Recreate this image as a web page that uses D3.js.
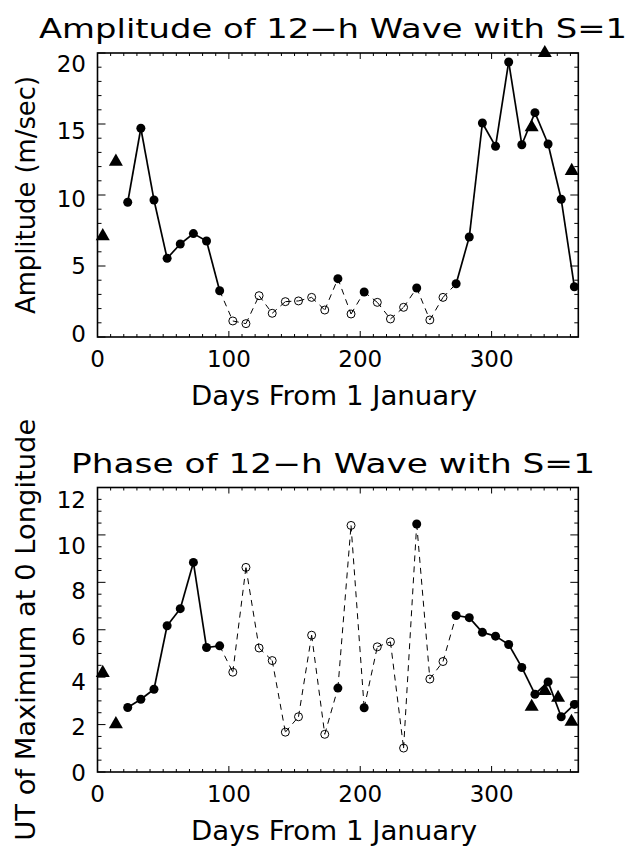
<!DOCTYPE html>
<html><head><meta charset="utf-8">
<script src="https://cdn.jsdelivr.net/npm/d3@7"></script>
<style>
body{margin:0;background:#fff}
svg{display:block}
text{font-family:"DejaVu Sans",sans-serif;fill:#000}
</style>
</head><body>
<svg id="c" width="631" height="848"></svg>
<script>
// ---------- data ----------
const days = [23,33,43,53,63,73,83,93,103,113,123,133,143,153,163,173,183,193,203,213,223,233,243,253,263,273,283,293,303,313,323,333,343,353,363];
const significant = [1,1,1,1,1,1,1,1,0,0,0,0,0,0,0,0,1,0,1,0,0,0,1,0,0,1,1,1,1,1,1,1,1,1,1];
const amplitude = [9.49,14.7,9.65,5.54,6.55,7.28,6.76,3.26,1.13,0.94,2.91,1.67,2.49,2.54,2.79,1.90,4.11,1.62,3.17,2.44,1.27,2.09,3.45,1.20,2.79,3.75,7.04,15.07,13.43,19.37,13.54,15.8,13.59,9.7,3.54];
const phase = [2.72,3.07,3.49,6.17,6.89,8.84,5.25,5.32,4.21,8.63,5.23,4.70,1.68,2.33,5.77,1.59,3.54,10.4,2.71,5.28,5.49,1.01,10.46,3.92,4.66,6.6,6.51,5.89,5.73,5.38,4.41,3.28,3.80,2.33,2.85];
const ampTriDays = [4,14,330.5,340.5,361];
const ampTriVals = [7.1,12.35,14.77,20.0,11.7];
const phaseTriDays = [4,14,330.5,340.5,350.6,360.8];
const phaseTriVals = [4.18,2.02,2.75,3.42,3.13,2.12];
const xTickLabels = [0,100,200,300];
const ampTickLabels = [0,5,10,15,20];
const phaseTickLabels = [0,2,4,6,8,10,12];
const titles = ["Amplitude of 12\u2212h Wave with S=1","Phase of 12\u2212h Wave with S=1"];
const xTitle = "Days From 1 January";
const yTitles = ["Amplitude (m/sec)","UT of Maximum at 0 Longitude"];

// ---------- layout ----------
const svg = d3.select("#c");
const X0 = 97.5, X1 = 578.3;
const x = d3.scaleLinear().domain([0,366]).range([X0,X1]);

const panels = [
  {top:53, bottom:337, ymax:20, major:5, minor:1, vals:amplitude, triD:ampTriDays, triV:ampTriVals,
   labels:ampTickLabels, labTop:63.3, labBot:333.5, title:titles[0], titleLen:588, ytitle:yTitles[0], ytLen:238},
  {top:487.5, bottom:772, ymax:12, major:2, minor:0.5, vals:phase, triD:phaseTriDays, triV:phaseTriVals,
   labels:phaseTickLabels, labTop:500, labBot:772.5, title:titles[1], titleLen:524, ytLen:422, ytitle:yTitles[1]}
];

const tickFs = 23, capH = 0.729;

panels.forEach(p => {
  const y = d3.scaleLinear().domain([0,p.ymax]).range([p.bottom,p.top]);
  const yLab = d3.scaleLinear().domain([0,p.ymax]).range([p.labBot,p.labTop]);
  const g = svg.append("g");

  // ticks (inward on all four sides)
  const minorX = d3.range(0, 366, 10);
  minorX.forEach(d => {
    const isMaj = d % 100 === 0;
    const L = isMaj ? 6 : 3;
    g.append("line").attr("x1",x(d)).attr("x2",x(d)).attr("y1",p.bottom).attr("y2",p.bottom-L).attr("stroke","#000").attr("stroke-width",1);
    g.append("line").attr("x1",x(d)).attr("x2",x(d)).attr("y1",p.top).attr("y2",p.top+L).attr("stroke","#000").attr("stroke-width",1);
  });
  const nMinor = Math.round(p.ymax / p.minor);
  for (let k=0;k<=nMinor;k++){
    const v = k*p.minor;
    const isMaj = Math.abs(v/p.major - Math.round(v/p.major))<1e-6;
    const L = isMaj ? 8 : 4;
    g.append("line").attr("x1",X0).attr("x2",X0+L).attr("y1",y(v)).attr("y2",y(v)).attr("stroke","#000").attr("stroke-width",1);
    g.append("line").attr("x1",X1).attr("x2",X1-L).attr("y1",y(v)).attr("y2",y(v)).attr("stroke","#000").attr("stroke-width",1);
  }
  // frame
  g.append("rect").attr("x",X0).attr("y",p.top).attr("width",X1-X0).attr("height",p.bottom-p.top)
    .attr("fill","none").attr("stroke","#000").attr("stroke-width",1.6);

  // tick labels
  xTickLabels.forEach(d => {
    g.append("text").attr("x",x(d)).attr("y",p.bottom+30).attr("text-anchor","middle")
      .attr("font-size",tickFs).text(d);
  });
  p.labels.forEach(v => {
    g.append("text").attr("x",86).attr("y",yLab(v)+tickFs*capH/2).attr("text-anchor","end")
      .attr("font-size",tickFs).text(v);
  });

  // titles
  g.append("text").attr("x",333).attr("y",p.top-15).attr("text-anchor","middle")
    .attr("font-size",26).attr("textLength",p.titleLen).attr("lengthAdjust","spacingAndGlyphs").text(p.title);
  g.append("text").attr("x",334).attr("y",p.bottom+68).attr("text-anchor","middle")
    .attr("font-size",26).attr("textLength",286).attr("lengthAdjust","spacingAndGlyphs").text(xTitle);
  const yc = (p.top+p.bottom)/2;
  g.append("text").attr("transform",`translate(35,${yc}) rotate(-90)`).attr("text-anchor","middle")
    .attr("font-size",26).attr("textLength",p.ytLen).attr("lengthAdjust","spacingAndGlyphs").text(p.ytitle);

  // connecting lines
  const line = d3.line().x(d=>x(d[0])).y(d=>y(d[1]));
  for (let i=0;i<days.length-1;i++){
    const solid = significant[i] && significant[i+1];
    g.append("path").attr("d", line([[days[i],p.vals[i]],[days[i+1],p.vals[i+1]]]))
      .attr("fill","none").attr("stroke","#000")
      .attr("stroke-width", solid ? 1.7 : 1)
      .attr("stroke-dasharray", solid ? null : "6,5");
  }
  // circles
  days.forEach((d,i) => {
    if (significant[i]) {
      g.append("circle").attr("cx",x(d)).attr("cy",y(p.vals[i])).attr("r",4.5).attr("fill","#000");
    } else {
      g.append("circle").attr("cx",x(d)).attr("cy",y(p.vals[i])).attr("r",4)
        .attr("fill","none").attr("stroke","#000").attr("stroke-width",1);
    }
  });
  // triangles
  const tri = d3.symbol().type(d3.symbolTriangle).size(85);
  p.triD.forEach((d,i) => {
    g.append("path").attr("d",tri()).attr("transform",`translate(${x(d)},${y(p.triV[i])})`).attr("fill","#000");
  });
});
</script>
</body></html>
